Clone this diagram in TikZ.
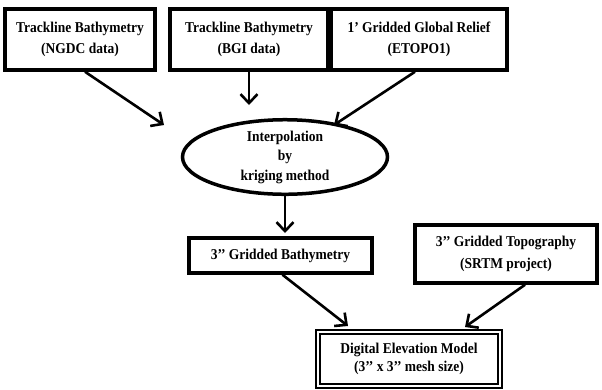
\documentclass[tikz,border=0pt]{standalone}
\usepackage{fontspec}
\setmainfont{Liberation Serif}[FakeStretch=0.9]
\usetikzlibrary{arrows.meta,shapes.geometric}
\begin{document}
\begin{tikzpicture}[x=1pt,y=-1pt,
  lbl/.style={align=center,font=\bfseries\fontsize{15}{21}\selectfont,inner sep=0pt},
  box/.style={lbl,draw,line width=3.5pt},
  flow/.style={line width=2.6pt,-{Straight Barb[length=9pt,width=17pt,line width=2.6pt]}}]
\useasboundingbox (0,0) rectangle (602,389);

% data sources
\node[box,minimum width=150,minimum height=61] (ngdc) at (80,39.5) {Trackline Bathymetry\\(NGDC data)};
\node[box,minimum width=158,minimum height=61] (bgi) at (249,39.5) {Trackline Bathymetry\\(BGI data)};
\node[box,minimum width=176,minimum height=61] (etopo) at (419,39.5) {1’ Gridded Global Relief\\(ETOPO1)};

% interpolation step
\node[draw,ellipse,line width=3.5pt,minimum width=205,minimum height=70,inner sep=0pt,
      lbl,font=\bfseries\fontsize{15}{19.5}\selectfont] (krig) at (285,157) {Interpolation\\by\\kriging method};

% gridded products
\node[box,minimum width=183,minimum height=35] (bathy) at (280.5,255.5) {3’’ Gridded Bathymetry};
\node[box,minimum width=182,minimum height=58,font=\bfseries\fontsize{15}{22}\selectfont] (srtm) at (506,254) {3’’ Gridded Topography\\(SRTM project)};

% final model
\node[lbl,draw,double,line width=2pt,double distance=2pt,minimum width=182,minimum height=54,font=\bfseries\fontsize{15}{18}\selectfont] (dem) at (409,358.5) {Digital Elevation Model\\(3’’ x 3’’ mesh size)};

% arrow end points
\coordinate (in1) at (164,125);
\coordinate (in2) at (249,105);
\coordinate (in3) at (334,125);
\coordinate (in4) at (285,233);
\coordinate (in5) at (348,326);
\coordinate (in6) at (465,327);

\draw[flow] ([xshift=5pt]ngdc.south) -- (in1);
\draw[flow] (bgi.south) -- (in2);
\draw[flow] ([xshift=-4pt]etopo.south) -- (in3);
\draw[flow] (krig.south) -- (in4);
\draw[flow] ([xshift=2pt]bathy.south) -- (in5);
\draw[flow] ([xshift=19pt]srtm.south) -- (in6);
\end{tikzpicture}
\end{document}
